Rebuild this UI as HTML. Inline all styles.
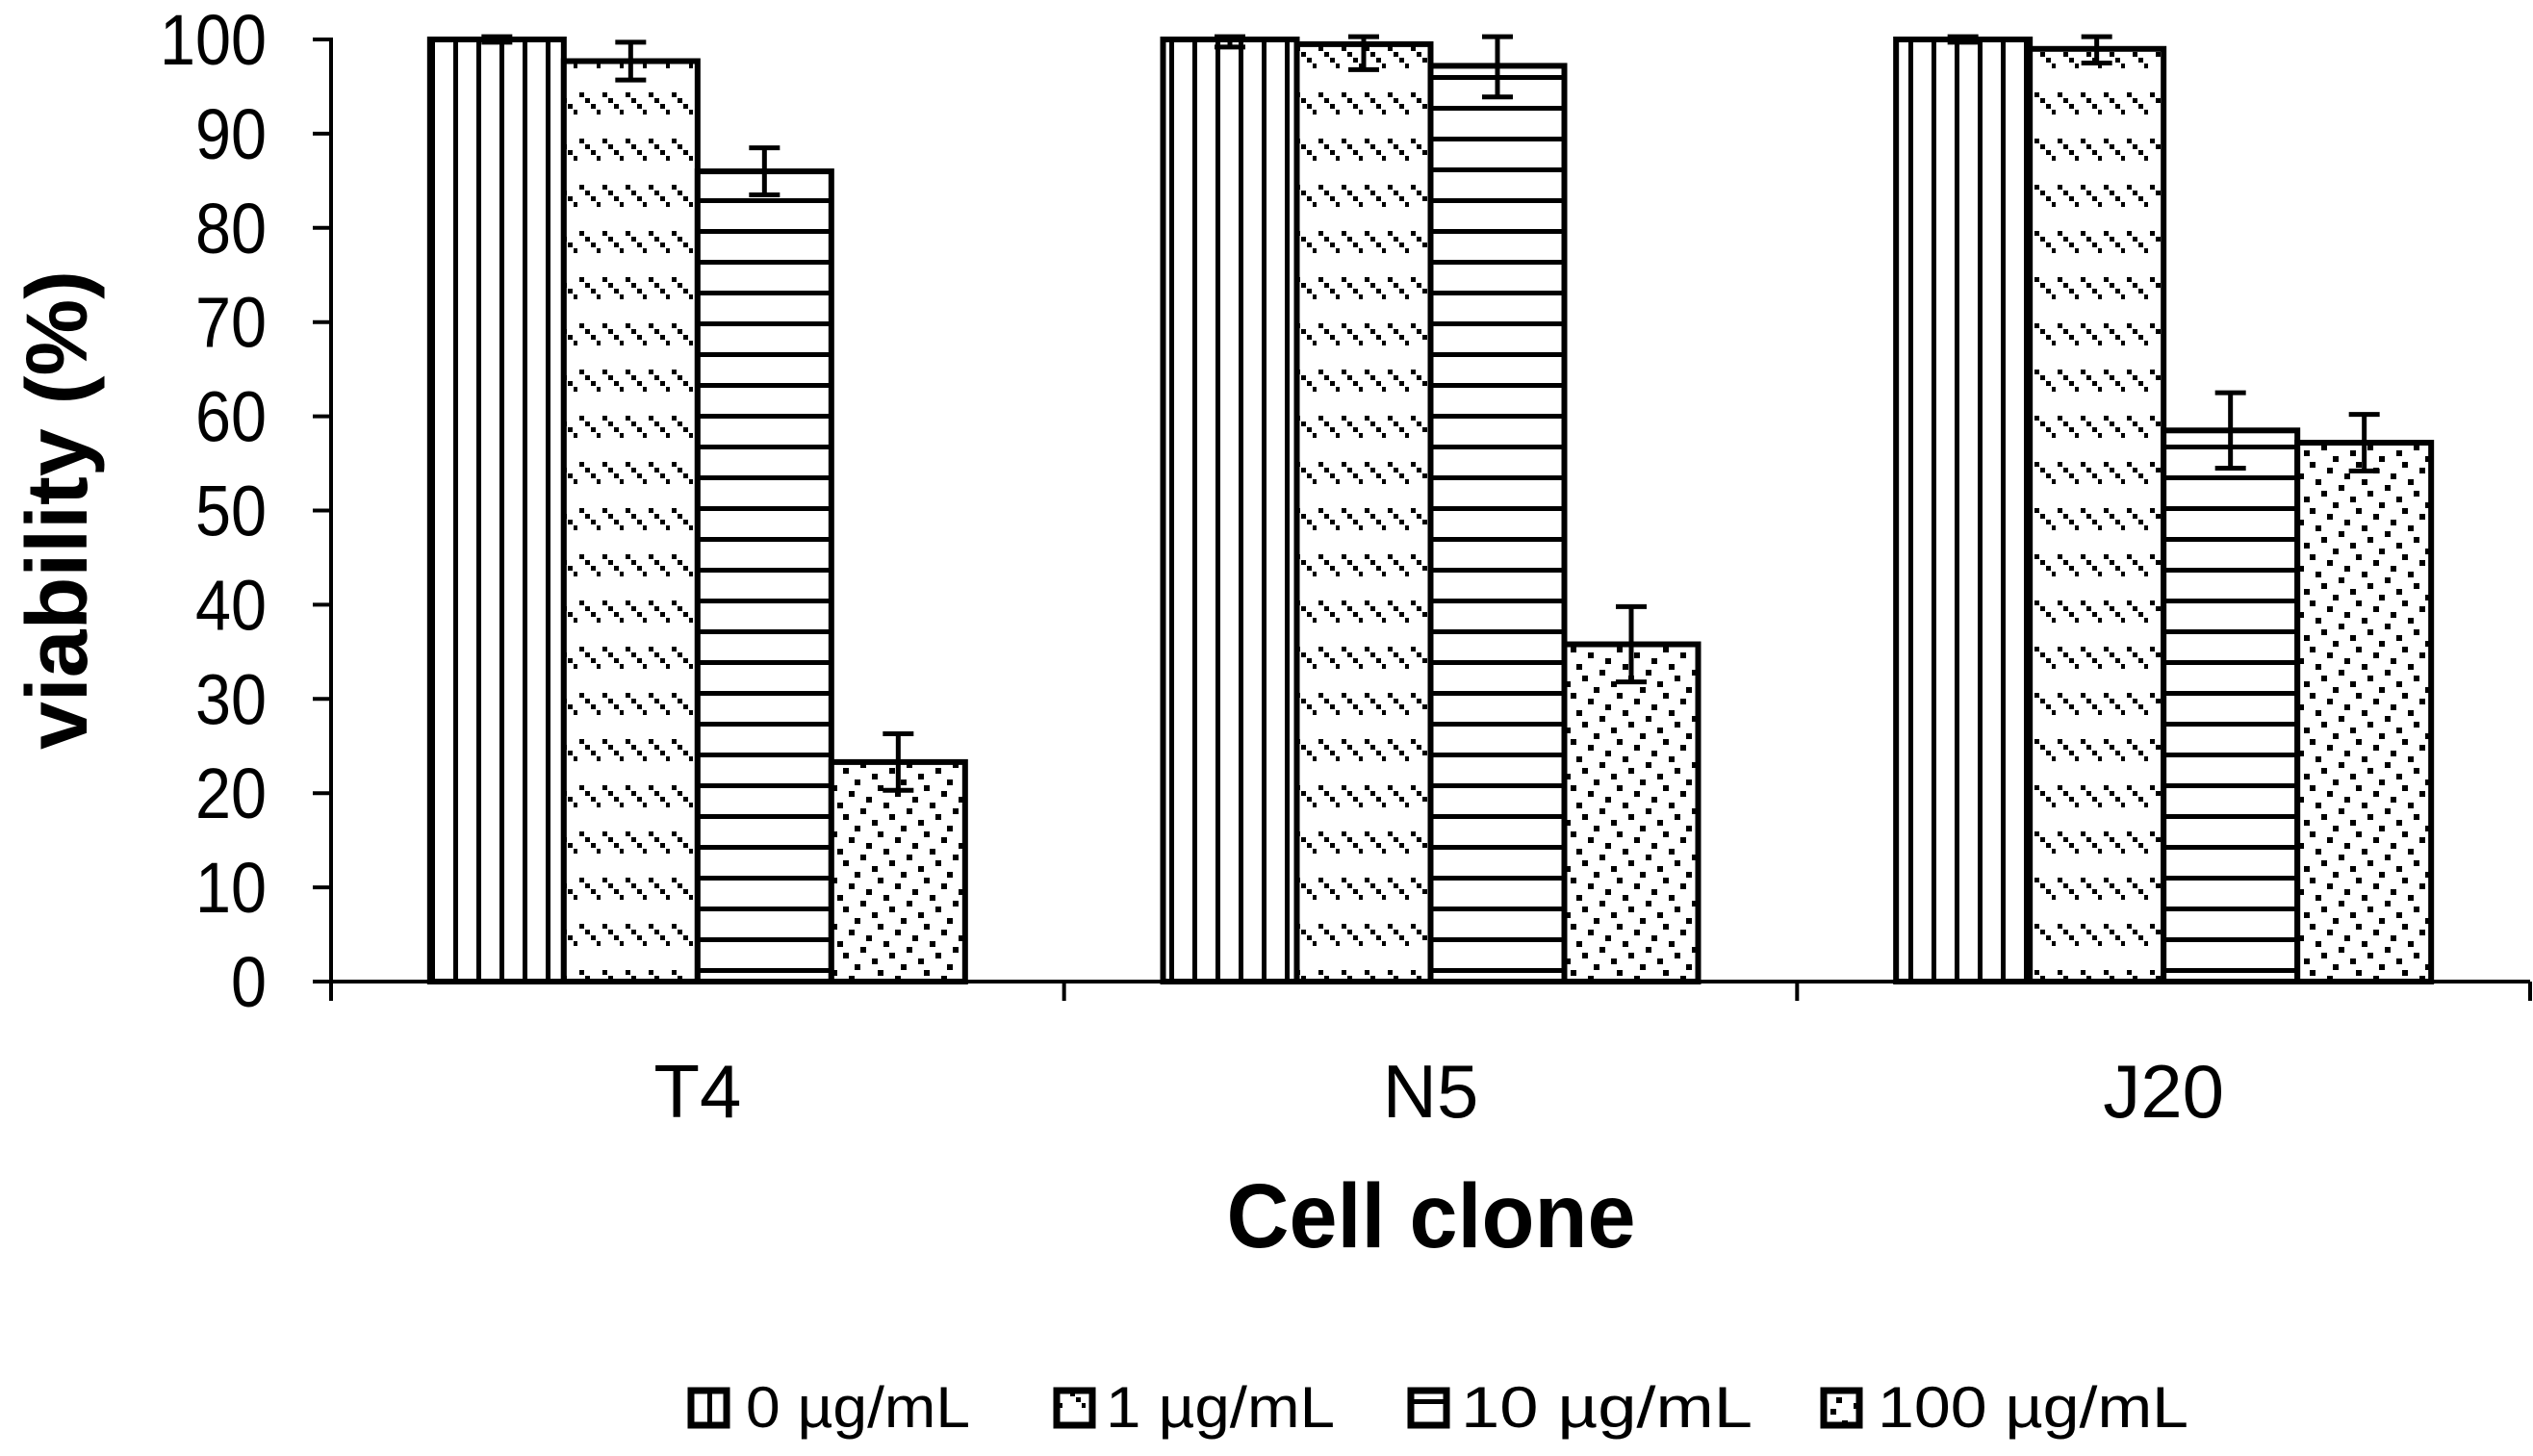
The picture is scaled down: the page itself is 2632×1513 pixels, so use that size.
<!DOCTYPE html>
<html><head><meta charset="utf-8"><style>
html,body{margin:0;padding:0;background:#fff;}
svg{display:block;font-family:"Liberation Sans",Arial,sans-serif;}
</style></head><body>
<svg id="chart" width="2632" height="1513" viewBox="0 0 2632 1513" xmlns="http://www.w3.org/2000/svg">
<defs>
<pattern id="p0" patternUnits="userSpaceOnUse" width="24" height="48" x="0" y="0">
<rect x="0" y="0" width="24" height="48" fill="#fff"/><rect x="15" y="0" width="5" height="48" fill="#000"/>
</pattern>
<pattern id="p1" patternUnits="userSpaceOnUse" width="24" height="48">
<rect width="24" height="48" fill="#fff"/>
<rect x="2" y="0" width="5" height="5" fill="#000"/><rect x="8" y="6" width="5" height="5" fill="#000"/>
<rect x="14" y="12" width="5" height="5" fill="#000"/><rect x="20" y="18" width="5" height="5" fill="#000"/>
</pattern>
<pattern id="p2" patternUnits="userSpaceOnUse" width="48" height="32">
<rect width="48" height="32" fill="#fff"/><rect x="0" y="14" width="48" height="5" fill="#000"/>
</pattern>
<pattern id="p3" patternUnits="userSpaceOnUse" width="48" height="48">
<rect width="48" height="48" fill="#fff"/>
<rect x="0" y="0" width="6" height="6" fill="#000"/><rect x="18" y="6" width="6" height="6" fill="#000"/>
<rect x="36" y="12" width="6" height="6" fill="#000"/><rect x="6" y="18" width="6" height="6" fill="#000"/>
<rect x="30" y="24" width="6" height="6" fill="#000"/><rect x="12" y="30" width="6" height="6" fill="#000"/>
<rect x="42" y="36" width="6" height="6" fill="#000"/><rect x="24" y="42" width="6" height="6" fill="#000"/>
</pattern>
</defs>
<g id="plot"></g>
</svg>
<script>
const categories = ["T4", "N5", "J20"];
const seriesNames = ["0 µg/mL", "1 µg/mL", "10  µg/mL", "100 µg/mL"];
const s0 = [100, 100, 100];
const s1 = [97.7, 99.5, 99];
const s2 = [86, 97.2, 58.5];
const s3 = [23.3, 35.8, 57.2];
const e0 = [0.3, 0.8, 0.3];
const e1 = [2, 2.7, 1.5];
const e2 = [2.5, 3.3, 4];
const e3 = [3, 4, 3];
const yTicks = [0, 10, 20, 30, 40, 50, 60, 70, 80, 90, 100];

const NS = "http://www.w3.org/2000/svg";
const g = document.getElementById("plot");
const X0 = 344, X1 = 2629, Y0 = 1020, Ytop = 41;
const yScale = v => Y0 - (v / 100) * (Y0 - Ytop);
const catW = (X1 - X0) / categories.length;
const xCenter = i => X0 + catW * (i + 0.5);
const BW = 139;
function mk(tag, attrs, text) {
  const el = document.createElementNS(NS, tag);
  for (const k in attrs) el.setAttribute(k, attrs[k]);
  if (text !== undefined) el.textContent = text;
  g.appendChild(el);
  return el;
}
const series = [s0, s1, s2, s3];
const errs = [e0, e1, e2, e3];
const fills = ["url(#p0)", "url(#p1)", "url(#p2)", "url(#p3)"];
categories.forEach((c, i) => {
  series.forEach((s, j) => {
    const x = xCenter(i) - 2 * BW + j * BW;
    const y = yScale(s[i]);
    const r = mk("rect", {x: x, y: y, width: BW, height: Y0 - y, fill: fills[j], stroke: "#000", "stroke-width": 6});
    
    
    const cx = x + BW / 2, yt = yScale(Math.min(s[i] + errs[j][i], 100.3)), yb = yScale(s[i] - errs[j][i]);
    const eb = mk("path", {d: `M${cx},${yt}V${yb}M${cx-16},${yt}H${cx+16}M${cx-16},${yb}H${cx+16}`, stroke: "#000", "stroke-width": 5, fill: "none"});
    
    
  });
  const t = mk("text", {x: xCenter(i), y: 1161, "font-size": 78, "text-anchor": "middle"}, c);
  
  
  const tk = mk("line", {x1: X0 + catW * (i + 1), x2: X0 + catW * (i + 1), y1: Y0, y2: 1040, stroke: "#000", "stroke-width": 4});
  
  
});
yTicks.forEach(v => {
  const y = yScale(v);
  const tk = mk("line", {x1: 325, x2: X0, y1: y, y2: y, stroke: "#000", "stroke-width": 4});
  
  
  const label = String(v);
  const t = mk("text", {x: 277, y: y + 26, "font-size": 74, "text-anchor": "end", textLength: label.length * 37, lengthAdjust: "spacingAndGlyphs"}, label);
  
  
});
const ya = mk("line", {x1: X0, x2: X0, y1: Ytop - 2, y2: 1040, stroke: "#000", "stroke-width": 4});


const xa = mk("line", {x1: 325, x2: X1, y1: Y0, y2: Y0, stroke: "#000", "stroke-width": 4});


const yt = mk("text", {x: 0, y: 0, "font-size": 90, "font-weight": "bold", "text-anchor": "middle", transform: "translate(90,530) rotate(-90)", textLength: 498, lengthAdjust: "spacingAndGlyphs"}, "viability (%)");


const xt = mk("text", {x: 1487, y: 1296, "font-size": 95, "font-weight": "bold", "text-anchor": "middle", textLength: 425, lengthAdjust: "spacingAndGlyphs"}, "Cell clone");


const legBox = [715, 1095, 1463, 1892];
const legText = [775, 1149, 1518, 1951];
const legLen = [233, 238, 303, 323];
seriesNames.forEach((n, j) => {
  const b = mk("rect", {x: legBox[j] + 3, y: 1445, width: 37, height: 36, fill: fills[j], stroke: "#000", "stroke-width": 7});
  
  
  const t = mk("text", {x: legText[j], y: 1483, "font-size": 60, textLength: legLen[j], lengthAdjust: "spacingAndGlyphs", "xml:space": "preserve"}, n);
  
  
});
</script>
</body></html>
